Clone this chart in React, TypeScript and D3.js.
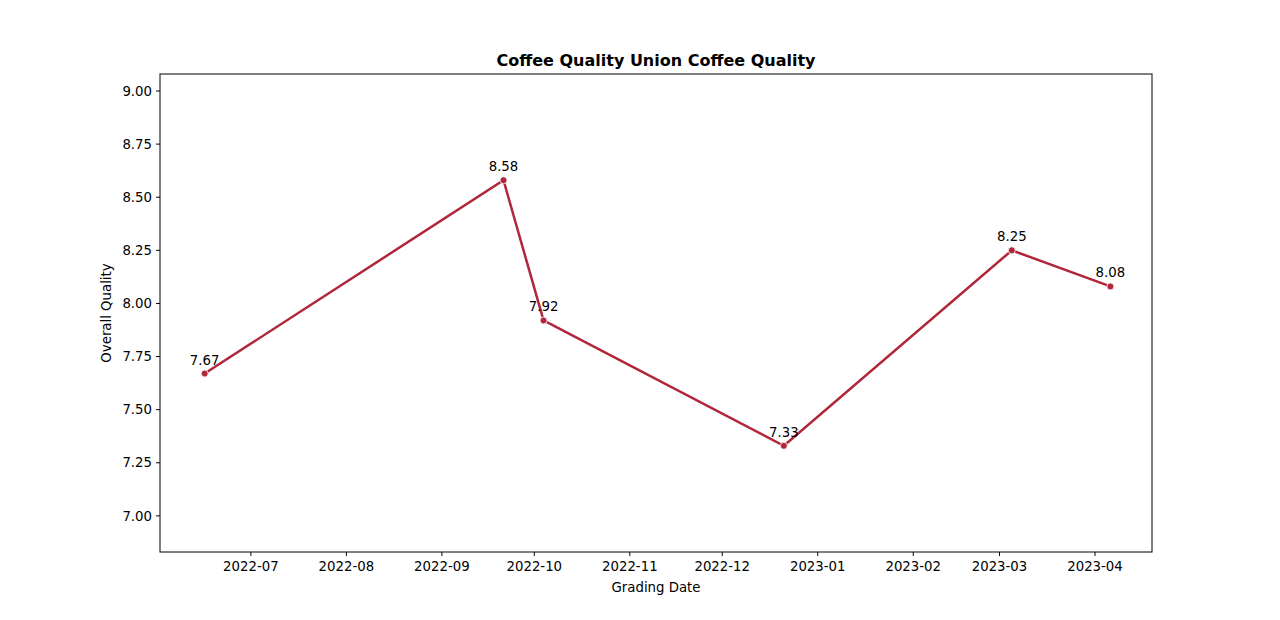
import * as d3 from "d3"

const dates = ["2022-06-16", "2022-09-21", "2022-10-04", "2022-12-21", "2023-03-05", "2023-04-06"]
const values = [7.67, 8.58, 7.92, 7.33, 8.25, 8.08]
const yTicks = [7.0, 7.25, 7.5, 7.75, 8.0, 8.25, 8.5, 8.75, 9.0]
const xTickMonths = ["2022-07", "2022-08", "2022-09", "2022-10", "2022-11", "2022-12", "2023-01", "2023-02", "2023-03", "2023-04"]

const parse = d3.utcParse("%Y-%m-%d")
const parseMonth = d3.utcParse("%Y-%m")

export default function App() {
  const W = 1280, H = 620
  const m = { left: 160, right: 1152, top: 74, bottom: 552 }
  const x = d3.scaleUtc()
    .domain([new Date(Date.UTC(2022, 5, 1, 12)), new Date(Date.UTC(2023, 3, 19, 12))])
    .range([m.left, m.right])
  const y = d3.scaleLinear().domain([6.83, 9.08]).range([m.bottom, m.top])
  const pts = dates.map((d, i) => ({ x: x(parse(d)!), y: y(values[i]), v: values[i] }))
  const line = d3.line<{ x: number; y: number }>().x(d => d.x).y(d => d.y)
  const color = "#b0263a"
  const font = "DejaVu Sans, sans-serif"

  return (
    <svg width={W} height={H} style={{ position: "absolute", left: 0, top: 0, fontFamily: font }}>
      <rect width={W} height={H} fill="white" />
      <text x={(m.left + m.right) / 2} y={66} textAnchor="middle" fontSize={16} fontWeight="bold">
        Coffee Quality Union Coffee Quality
      </text>
      {yTicks.map(t => (
        <g key={t}>
          <line x1={m.left - 4} x2={m.left} y1={y(t)} y2={y(t)} stroke="black" />
          <text x={m.left - 8} y={y(t)} dy="0.35em" textAnchor="end" fontSize={13.3}>{t.toFixed(2)}</text>
        </g>
      ))}
      {xTickMonths.map(t => {
        const px = x(parseMonth(t)!)
        return (
          <g key={t}>
            <line x1={px} x2={px} y1={m.bottom} y2={m.bottom + 4} stroke="black" />
            <text x={px} y={m.bottom + 19} textAnchor="middle" fontSize={13.3}>{t}</text>
          </g>
        )
      })}
      <text x={(m.left + m.right) / 2} y={592} textAnchor="middle" fontSize={13.3}>Grading Date</text>
      <text transform={`translate(111,${(m.top + m.bottom) / 2}) rotate(-90)`} textAnchor="middle" fontSize={13.3}>
        Overall Quality
      </text>
      <path d={line(pts)!} fill="none" stroke={color} strokeWidth={2.5} />
      {pts.map((p, i) => (
        <g key={i}>
          <circle cx={p.x} cy={p.y} r={3.5} fill={color} stroke="white" strokeWidth={0.8} />
          <text x={p.x} y={p.y - 9} textAnchor="middle" fontSize={13.3}>{p.v.toFixed(2)}</text>
        </g>
      ))}
      <rect x={m.left} y={m.top} width={m.right - m.left} height={m.bottom - m.top} fill="none" stroke="black" />
    </svg>
  )
}
